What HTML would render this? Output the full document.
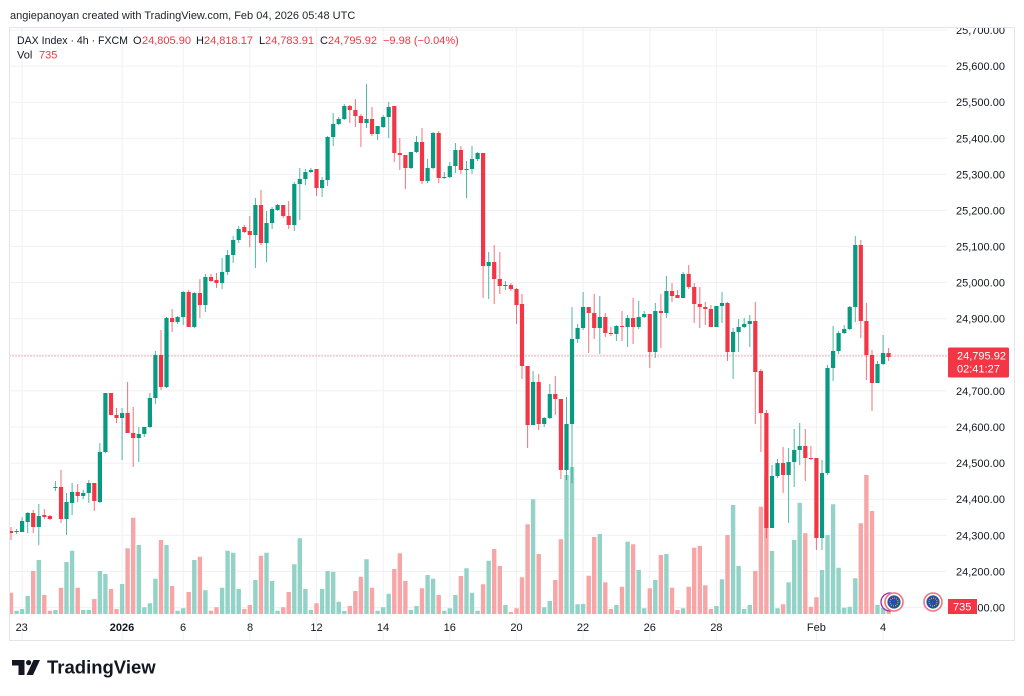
<!DOCTYPE html>
<html><head><meta charset="utf-8"><style>
html,body{margin:0;padding:0;background:#fff;width:1024px;height:696px;overflow:hidden}
svg{display:block}
text{font-family:"Liberation Sans",sans-serif}
</style></head><body>
<svg width="1024" height="696" viewBox="0 0 1024 696" xmlns="http://www.w3.org/2000/svg">
<defs>
<clipPath id="plot"><rect x="9.5" y="28" width="937.5" height="612"/></clipPath>
<clipPath id="axis"><rect x="947" y="28" width="67" height="612"/></clipPath>
</defs>
<rect width="1024" height="696" fill="#fff"/>
<text x="10" y="19" font-size="11" fill="#1e222d">angiepanoyan created with TradingView.com, Feb 04, 2026 05:48 UTC</text>

<!-- grid -->
<g stroke="#f0f1f4" stroke-width="1">
<path d="M9.5 30H947M9.5 66.1H947M9.5 102.2H947M9.5 138.3H947M9.5 174.4H947M9.5 210.5H947M9.5 246.5H947M9.5 282.6H947M9.5 318.7H947M9.5 354.8H947M9.5 390.9H947M9.5 427H947M9.5 463.1H947M9.5 499.2H947M9.5 535.3H947M9.5 571.4H947M9.5 607.4H947"/>
<path d="M22.1 28V640M122.1 28V640M183.2 28V640M249.8 28V640M316.5 28V640M383.2 28V640M449.8 28V640M516.5 28V640M583.1 28V640M649.8 28V640M716.4 28V640M816.4 28V640M883.1 28V640"/>
</g>

<g clip-path="url(#plot)">
<!-- volume -->
<path fill="#93d2c7" d="M14.4 610.7h4.4V614h-4.4zM19.9 609h4.4V614h-4.4zM25.5 596h4.4V614h-4.4zM36.6 560h4.4V614h-4.4zM53.2 610h4.4V614h-4.4zM64.3 562h4.4V614h-4.4zM69.9 550.7h4.4V614h-4.4zM81 610h4.4V614h-4.4zM86.6 610h4.4V614h-4.4zM97.7 571h4.4V614h-4.4zM103.2 574h4.4V614h-4.4zM119.9 584h4.4V614h-4.4zM136.6 545h4.4V614h-4.4zM142.1 607.3h4.4V614h-4.4zM147.7 603.3h4.4V614h-4.4zM153.2 578.7h4.4V614h-4.4zM164.3 545h4.4V614h-4.4zM175.4 610.7h4.4V614h-4.4zM181 608.3h4.4V614h-4.4zM192.1 560h4.4V614h-4.4zM203.2 590.3h4.4V614h-4.4zM219.9 587.7h4.4V614h-4.4zM225.4 550.7h4.4V614h-4.4zM231 552.7h4.4V614h-4.4zM236.5 589h4.4V614h-4.4zM253.2 580h4.4V614h-4.4zM264.3 552.7h4.4V614h-4.4zM269.9 581h4.4V614h-4.4zM275.4 610.7h4.4V614h-4.4zM292.1 564.3h4.4V614h-4.4zM297.6 538.3h4.4V614h-4.4zM303.2 589h4.4V614h-4.4zM308.7 610h4.4V614h-4.4zM319.9 589h4.4V614h-4.4zM325.4 571h4.4V614h-4.4zM331 571.7h4.4V614h-4.4zM336.5 601.7h4.4V614h-4.4zM342.1 611h4.4V614h-4.4zM364.3 559.3h4.4V614h-4.4zM375.4 610.7h4.4V614h-4.4zM381 607.3h4.4V614h-4.4zM386.5 593.7h4.4V614h-4.4zM408.7 610h4.4V614h-4.4zM414.3 606h4.4V614h-4.4zM425.4 575h4.4V614h-4.4zM430.9 578.7h4.4V614h-4.4zM442.1 610.7h4.4V614h-4.4zM447.6 608.3h4.4V614h-4.4zM453.2 595h4.4V614h-4.4zM464.3 568.3h4.4V614h-4.4zM469.8 592.7h4.4V614h-4.4zM475.4 610.7h4.4V614h-4.4zM486.5 560.7h4.4V614h-4.4zM503.2 605h4.4V614h-4.4zM530.9 499.3h4.4V614h-4.4zM542 607.3h4.4V614h-4.4zM547.6 601h4.4V614h-4.4zM564.3 475h4.4V614h-4.4zM569.8 467h4.4V614h-4.4zM575.4 604.3h4.4V614h-4.4zM580.9 604h4.4V614h-4.4zM597.6 534h4.4V614h-4.4zM614.2 605h4.4V614h-4.4zM625.4 541.7h4.4V614h-4.4zM636.5 570h4.4V614h-4.4zM642 608.3h4.4V614h-4.4zM653.1 580h4.4V614h-4.4zM664.2 554h4.4V614h-4.4zM680.9 608.3h4.4V614h-4.4zM714.2 606h4.4V614h-4.4zM719.8 579.3h4.4V614h-4.4zM730.9 505h4.4V614h-4.4zM736.4 566h4.4V614h-4.4zM742 609h4.4V614h-4.4zM747.6 605h4.4V614h-4.4zM769.8 551h4.4V614h-4.4zM775.3 608.3h4.4V614h-4.4zM786.4 582.3h4.4V614h-4.4zM792 540h4.4V614h-4.4zM797.5 502.7h4.4V614h-4.4zM819.8 570h4.4V614h-4.4zM825.3 535h4.4V614h-4.4zM830.9 504.3h4.4V614h-4.4zM836.4 567.7h4.4V614h-4.4zM842 607.7h4.4V614h-4.4zM847.5 606.7h4.4V614h-4.4zM853.1 578.3h4.4V614h-4.4zM875.3 605h4.4V614h-4.4zM880.9 608h4.4V614h-4.4z"/>
<path fill="#f7a6a8" d="M8.8 592.7h4.4V614h-4.4zM31 571h4.4V614h-4.4zM42.1 595h4.4V614h-4.4zM47.7 610.7h4.4V614h-4.4zM58.8 587.7h4.4V614h-4.4zM75.5 587.7h4.4V614h-4.4zM92.1 599h4.4V614h-4.4zM108.8 589h4.4V614h-4.4zM114.3 609h4.4V614h-4.4zM125.4 548.3h4.4V614h-4.4zM131 517.7h4.4V614h-4.4zM158.8 540h4.4V614h-4.4zM169.9 586h4.4V614h-4.4zM186.5 592h4.4V614h-4.4zM197.7 556.7h4.4V614h-4.4zM208.8 610.7h4.4V614h-4.4zM214.3 607.3h4.4V614h-4.4zM242.1 609h4.4V614h-4.4zM247.6 605h4.4V614h-4.4zM258.8 555.7h4.4V614h-4.4zM281 607.3h4.4V614h-4.4zM286.5 592h4.4V614h-4.4zM314.3 603.3h4.4V614h-4.4zM347.6 606h4.4V614h-4.4zM353.2 591h4.4V614h-4.4zM358.7 576.7h4.4V614h-4.4zM369.8 587.7h4.4V614h-4.4zM392.1 569h4.4V614h-4.4zM397.6 553.3h4.4V614h-4.4zM403.2 581h4.4V614h-4.4zM419.8 588.3h4.4V614h-4.4zM436.5 595h4.4V614h-4.4zM458.7 576h4.4V614h-4.4zM480.9 584.3h4.4V614h-4.4zM492 549h4.4V614h-4.4zM497.6 566h4.4V614h-4.4zM508.7 612h4.4V614h-4.4zM514.3 608.3h4.4V614h-4.4zM519.8 577.3h4.4V614h-4.4zM525.4 524.3h4.4V614h-4.4zM536.5 554h4.4V614h-4.4zM553.1 580h4.4V614h-4.4zM558.7 539.3h4.4V614h-4.4zM586.5 575.7h4.4V614h-4.4zM592 537h4.4V614h-4.4zM603.1 582.3h4.4V614h-4.4zM608.7 609h4.4V614h-4.4zM619.8 586.7h4.4V614h-4.4zM630.9 544.3h4.4V614h-4.4zM647.6 588.3h4.4V614h-4.4zM658.7 555h4.4V614h-4.4zM669.8 587.7h4.4V614h-4.4zM675.3 610h4.4V614h-4.4zM686.5 586.7h4.4V614h-4.4zM692 547.7h4.4V614h-4.4zM697.6 546h4.4V614h-4.4zM703.1 585.3h4.4V614h-4.4zM708.7 609h4.4V614h-4.4zM725.3 535h4.4V614h-4.4zM753.1 571h4.4V614h-4.4zM758.7 506.7h4.4V614h-4.4zM764.2 476.7h4.4V614h-4.4zM780.9 604.3h4.4V614h-4.4zM803.1 533.3h4.4V614h-4.4zM808.7 606.7h4.4V614h-4.4zM814.2 597.3h4.4V614h-4.4zM858.6 523.3h4.4V614h-4.4zM864.2 475h4.4V614h-4.4zM869.8 511h4.4V614h-4.4zM886.4 610h4.4V614h-4.4z"/>

<!-- price line -->
<path d="M9.5 356H947" stroke="#f23645" stroke-width="1" stroke-dasharray="1 2" opacity="0.8"/>

<!-- wicks -->
<path fill="none" stroke="#089981" stroke-width="1" stroke-opacity="0.7" d="M16.6 529V534M22.1 517V532M27.7 512V533M38.8 504V545M55.4 481V491M66.5 493V535M72.1 483V515M83.2 490V499M88.8 480V503M99.9 443V503M105.4 393V453M122.1 408V460M138.8 427V462M144.3 427V437M149.9 393V428M155.4 351V404M166.5 317V388M177.6 316V324M183.2 291V325M194.3 292V328M205.4 274V312M222.1 258V289M227.6 250V275M233.2 236V263M238.7 226V243M255.4 198V268M266.5 211V262M272.1 207V229M277.6 204V211M294.3 182V231M299.8 168V220M305.4 169V185M310.9 168V173M322.1 177V197M327.6 136V186M333.2 113V146M338.7 117V125M344.3 104V120M366.5 84V128M377.6 126V140M383.2 115V128M388.7 102V138M410.9 152V169M416.5 136V153M427.6 159V183M433.1 132V169M444.3 172V179M449.8 162V178M455.4 143V173M466.5 161V198M472 146V174M477.6 152V161M488.7 252V299M505.4 281V290M533.1 371V425M544.2 417V427M549.8 384V419M566.5 397V480M572 307V483M577.6 324V343M583.1 292V330M599.8 296V354M616.4 325V341M627.6 315V347M638.7 301V329M644.2 311V318M655.3 303V358M666.4 276V318M683.1 272V298M716.4 306V327M722 292V323M733.1 328V379M738.6 319V352M744.2 318V328M749.8 315V347M772 465V528M777.5 459V478M788.6 448V523M794.2 429V487M799.7 423V465M822 460V550M827.5 365V475M833.1 326V381M838.6 331V354M844.2 325V334M849.7 306V330M855.3 236V322M877.5 361V383M883.1 335V365"/>
<path fill="none" stroke="#f23645" stroke-width="1" stroke-opacity="0.7" d="M11 527V540M33.2 510V533M44.3 509V519M49.9 515V520M61 470V523M77.7 484V502M94.3 483V511M111 393V415M116.5 408V423M127.6 382V433M133.2 407V467M161 330V390M172.1 309V332M188.7 290V327M199.9 279V318M211 274V282M216.5 273V288M244.3 225V233M249.8 216V247M261 190V245M283.2 205V218M288.7 201V229M316.5 169V196M349.8 105V123M355.4 99V127M360.9 114V147M372 107V136M394.3 106V162M399.8 138V170M405.4 155V189M422 128V184M438.7 131V183M460.9 146V174M483.1 153V298M494.2 245V304M499.8 252V294M510.9 283V291M516.5 288V324M522 294V379M527.6 366V448M538.7 374V430M555.3 376V415M560.9 399V479M588.7 307V353M594.2 294V339M605.3 313V337M610.9 327V336M622 311V341M633.1 298V344M649.8 314V368M660.9 294V348M672 283V302M677.5 290V298M688.7 265V289M694.2 283V323M699.8 287V328M705.3 302V325M710.9 305V327M727.5 302V361M755.3 302V424M760.9 369V452M766.4 410V538M783.1 447V493M805.3 429V481M810.9 446V460M816.4 458V550M860.8 240V338M866.4 303V380M872 350V411M888.6 348V361"/>

<!-- bodies -->
<path fill="#089981" d="M14.5 531h4.2V532h-4.2zM20 521h4.2V532h-4.2zM25.6 513h4.2V522h-4.2zM36.7 516h4.2V527h-4.2zM53.3 487h4.2V488h-4.2zM64.4 502h4.2V519h-4.2zM70 492h4.2V503h-4.2zM81.1 493h4.2V496h-4.2zM86.7 483h4.2V493h-4.2zM97.8 452h4.2V502h-4.2zM103.3 393h4.2V452h-4.2zM120 413h4.2V418h-4.2zM136.7 434h4.2V438h-4.2zM142.2 427h4.2V434h-4.2zM147.8 398h4.2V427h-4.2zM153.3 355h4.2V398h-4.2zM164.4 318h4.2V387h-4.2zM175.5 317h4.2V322h-4.2zM181.1 292h4.2V317h-4.2zM192.2 293h4.2V327h-4.2zM203.3 277h4.2V305h-4.2zM220 272h4.2V283h-4.2zM225.5 255h4.2V272h-4.2zM231.1 240h4.2V255h-4.2zM236.6 229h4.2V240h-4.2zM253.3 205h4.2V235h-4.2zM264.4 223h4.2V243h-4.2zM270 209h4.2V223h-4.2zM275.5 205h4.2V210h-4.2zM292.2 184h4.2V225h-4.2zM297.7 179h4.2V184h-4.2zM303.3 172h4.2V179h-4.2zM308.8 170h4.2V172h-4.2zM320 180h4.2V188h-4.2zM325.5 137h4.2V180h-4.2zM331.1 124h4.2V137h-4.2zM336.6 119h4.2V124h-4.2zM342.2 106h4.2V119h-4.2zM364.4 119h4.2V123h-4.2zM375.5 126h4.2V134h-4.2zM381.1 117h4.2V127h-4.2zM386.6 107h4.2V117h-4.2zM408.8 152h4.2V168h-4.2zM414.4 142h4.2V152h-4.2zM425.5 168h4.2V181h-4.2zM431 133h4.2V168h-4.2zM442.2 177h4.2V178h-4.2zM447.7 166h4.2V177h-4.2zM453.3 150h4.2V166h-4.2zM464.4 169h4.2V170h-4.2zM469.9 159h4.2V169h-4.2zM475.5 153h4.2V159h-4.2zM486.6 262h4.2V266h-4.2zM503.3 285h4.2V286h-4.2zM531 382h4.2V425h-4.2zM542.1 418h4.2V424h-4.2zM547.7 394h4.2V418h-4.2zM564.4 424h4.2V470h-4.2zM569.9 339h4.2V424h-4.2zM575.5 328h4.2V339h-4.2zM581 307h4.2V328h-4.2zM597.7 317h4.2V328h-4.2zM614.3 326h4.2V334h-4.2zM625.5 318h4.2V327h-4.2zM636.6 317h4.2V327h-4.2zM642.1 314h4.2V317h-4.2zM653.2 311h4.2V352h-4.2zM664.3 291h4.2V313h-4.2zM681 274h4.2V298h-4.2zM714.3 306h4.2V327h-4.2zM719.9 303h4.2V306h-4.2zM731 332h4.2V352h-4.2zM736.5 327h4.2V332h-4.2zM742.1 324h4.2V327h-4.2zM747.7 321h4.2V324h-4.2zM769.9 476h4.2V528h-4.2zM775.4 463h4.2V476h-4.2zM786.5 462h4.2V475h-4.2zM792.1 450h4.2V462h-4.2zM797.6 446h4.2V450h-4.2zM819.9 473h4.2V538h-4.2zM825.4 368h4.2V473h-4.2zM831 351h4.2V368h-4.2zM836.5 333h4.2V351h-4.2zM842.1 329h4.2V333h-4.2zM847.6 307h4.2V329h-4.2zM853.2 245h4.2V307h-4.2zM875.4 364h4.2V383h-4.2zM881 353h4.2V364h-4.2z"/>
<path fill="#f23645" d="M8.9 531h4.2V533h-4.2zM31.1 513h4.2V527h-4.2zM42.2 515h4.2V517h-4.2zM47.8 516h4.2V519h-4.2zM58.9 487h4.2V519h-4.2zM75.6 492h4.2V496h-4.2zM92.2 483h4.2V501h-4.2zM108.9 393h4.2V415h-4.2zM114.4 415h4.2V418h-4.2zM125.5 413h4.2V433h-4.2zM131.1 433h4.2V438h-4.2zM158.9 355h4.2V387h-4.2zM170 318h4.2V322h-4.2zM186.6 292h4.2V327h-4.2zM197.8 293h4.2V305h-4.2zM208.9 277h4.2V281h-4.2zM214.4 280h4.2V283h-4.2zM242.2 227h4.2V232h-4.2zM247.7 231h4.2V235h-4.2zM258.9 205h4.2V243h-4.2zM281.1 205h4.2V216h-4.2zM286.6 216h4.2V225h-4.2zM314.4 169h4.2V188h-4.2zM347.7 106h4.2V110h-4.2zM353.3 110h4.2V116h-4.2zM358.8 116h4.2V123h-4.2zM369.9 119h4.2V134h-4.2zM392.2 106h4.2V153h-4.2zM397.7 153h4.2V155h-4.2zM403.3 155h4.2V168h-4.2zM419.9 142h4.2V181h-4.2zM436.6 133h4.2V178h-4.2zM458.8 150h4.2V170h-4.2zM481 153h4.2V266h-4.2zM492.1 262h4.2V279h-4.2zM497.7 279h4.2V286h-4.2zM508.8 285h4.2V289h-4.2zM514.4 289h4.2V305h-4.2zM519.9 304h4.2V366h-4.2zM525.5 366h4.2V425h-4.2zM536.6 382h4.2V424h-4.2zM553.2 394h4.2V399h-4.2zM558.8 399h4.2V470h-4.2zM586.6 307h4.2V313h-4.2zM592.1 313h4.2V328h-4.2zM603.2 317h4.2V333h-4.2zM608.8 333h4.2V334h-4.2zM619.9 326h4.2V327h-4.2zM631 318h4.2V327h-4.2zM647.7 314h4.2V352h-4.2zM658.8 311h4.2V313h-4.2zM669.9 291h4.2V296h-4.2zM675.4 295h4.2V298h-4.2zM686.6 274h4.2V287h-4.2zM692.1 287h4.2V304h-4.2zM697.7 304h4.2V307h-4.2zM703.2 307h4.2V309h-4.2zM708.8 309h4.2V327h-4.2zM725.4 303h4.2V352h-4.2zM753.2 321h4.2V372h-4.2zM758.8 371h4.2V413h-4.2zM764.3 413h4.2V528h-4.2zM781 463h4.2V475h-4.2zM803.2 446h4.2V458h-4.2zM808.8 458h4.2V459h-4.2zM814.3 458h4.2V538h-4.2zM858.7 245h4.2V321h-4.2zM864.3 321h4.2V355h-4.2zM869.9 355h4.2V383h-4.2zM886.5 353h4.2V357h-4.2z"/>
</g>

<!-- legend -->
<g font-size="11">
<text x="17" y="44" fill="#131722" textLength="111" lengthAdjust="spacingAndGlyphs">DAX Index · 4h · FXCM</text>
<text x="133" y="44" fill="#131722">O</text><text x="142" y="44" fill="#f23645">24,805.90</text>
<text x="196" y="44" fill="#131722">H</text><text x="204" y="44" fill="#f23645">24,818.17</text>
<text x="259" y="44" fill="#131722">L</text><text x="265" y="44" fill="#f23645">24,783.91</text>
<text x="320" y="44" fill="#131722">C</text><text x="328" y="44" fill="#f23645">24,795.92</text>
<text x="383" y="44" fill="#f23645">−9.98 (−0.04%)</text>
<text x="17" y="58.5" fill="#131722">Vol</text><text x="39" y="58.5" fill="#f23645">735</text>
</g>

<!-- price axis -->
<g font-size="11" fill="#131722" clip-path="url(#axis)">
<text x="956" y="34">25,700.00</text>
<text x="956" y="70.1">25,600.00</text>
<text x="956" y="106.2">25,500.00</text>
<text x="956" y="142.3">25,400.00</text>
<text x="956" y="178.4">25,300.00</text>
<text x="956" y="214.5">25,200.00</text>
<text x="956" y="250.5">25,100.00</text>
<text x="956" y="286.6">25,000.00</text>
<text x="956" y="322.7">24,900.00</text>
<text x="956" y="394.9">24,700.00</text>
<text x="956" y="431">24,600.00</text>
<text x="956" y="467.1">24,500.00</text>
<text x="956" y="503.2">24,400.00</text>
<text x="956" y="539.3">24,300.00</text>
<text x="956" y="575.4">24,200.00</text>
<text x="956" y="611.4">24,100.00</text>
</g>

<!-- last price tag -->
<rect x="948" y="347.5" width="61" height="30" rx="1.5" fill="#f23645"/>
<text x="957" y="359.5" font-size="11" fill="#fff">24,795.92</text>
<text x="957" y="372.5" font-size="11" fill="#fff">02:41:27</text>

<!-- volume tag -->
<rect x="948" y="599" width="29" height="15" fill="#f23645"/>
<text x="953" y="610.5" font-size="11" fill="#fff">735</text>

<!-- event icons -->
<circle cx="890" cy="602" r="9" fill="#fff" stroke="#9c27b0" stroke-width="1.3"/>
<g>
<circle cx="894" cy="602" r="9" fill="#fff" stroke="#f4737d" stroke-width="1.6"/>
<circle cx="894" cy="602" r="6.6" fill="#2451a3"/>
<circle cx="894" cy="602" r="4" fill="none" stroke="#ffd400" stroke-width="0.9" stroke-dasharray="0.9 1.2"/>
</g>
<g>
<circle cx="933" cy="602" r="9" fill="#fff" stroke="#f4737d" stroke-width="1.6"/>
<circle cx="933" cy="602" r="6.6" fill="#2451a3"/>
<circle cx="933" cy="602" r="4" fill="none" stroke="#ffd400" stroke-width="0.9" stroke-dasharray="0.9 1.2"/>
</g>

<!-- time axis -->
<g font-size="11" fill="#131722" text-anchor="middle">
<text x="21.7" y="631">23</text>
<text x="122" y="631" font-weight="bold">2026</text>
<text x="183" y="631">6</text>
<text x="250" y="631">8</text>
<text x="316.5" y="631">12</text>
<text x="383" y="631">14</text>
<text x="449.8" y="631">16</text>
<text x="516.5" y="631">20</text>
<text x="583" y="631">22</text>
<text x="649.8" y="631">26</text>
<text x="716.4" y="631">28</text>
<text x="816.4" y="631">Feb</text>
<text x="883" y="631">4</text>
</g>

<!-- frame -->
<rect x="9.5" y="27.5" width="1005" height="613" fill="none" stroke="#e3e5ea" stroke-width="1"/>

<!-- logo -->
<g fill="#131722">
<path d="M12 660H24.5V675H18.5V665.5H12Z"/>
<circle cx="28.6" cy="662.6" r="2.6"/>
<path d="M33.5 660H40L33 675H26.5Z"/>
</g>
<text x="47" y="673.5" font-size="18.5" font-weight="bold" fill="#131722">TradingView</text>
</svg>
</body></html>
